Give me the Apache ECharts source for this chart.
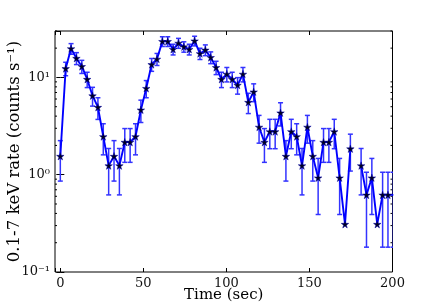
<!DOCTYPE html>
<html>
<head>
<meta charset="utf-8">
<script src="https://cdn.jsdelivr.net/npm/echarts@6/dist/echarts.min.js"></script>
<style>html,body{margin:0;padding:0;background:#fff}#c{width:436px;height:303px}</style>
</head>
<body>
<div id="c"></div>
<script>
// Time bins (sec)
const times = [0, 3.23, 6.47, 9.70, 12.94, 16.17, 19.40, 22.64, 25.87, 29.11,
  32.34, 35.57, 38.81, 42.04, 45.28, 48.51, 51.74, 54.98, 58.21, 61.45,
  64.68, 67.91, 71.15, 74.38, 77.62, 80.85, 84.08, 87.32, 90.55, 93.79,
  97.02, 100.25, 103.49, 106.72, 109.96, 113.19, 116.42, 119.66, 122.89, 126.13,
  129.36, 132.59, 135.83, 139.06, 142.30, 145.53, 148.76, 152.00, 155.23, 158.47,
  161.70, 164.93, 168.17, 171.40, 174.64, 177.87, 181.10, 184.34, 187.57, 190.81,
  194.04, 197.27, 200.51];
// 0.1-7 keV rate (counts/s); null = empty bin
const rates = [1.55, 12.36, 19.78, 15.76, 12.98, 9.58, 6.49, 4.94, 2.47, 1.24,
  1.55, 1.24, 2.16, 2.16, 2.47, 4.64, 7.73, 13.6, 15.45, 23.48,
  23.48, 19.47, 22.56, 20.7, 19.47, 23.79, 17.61, 19.16, 16.07, 12.67,
  9.58, 10.82, 9.58, 8.34, 10.82, 5.56, 7.11, 3.09, 2.16, 2.78,
  2.78, 4.33, 1.55, 2.78, 2.47, 1.24, 3.09, 1.55, 0.93, 2.16,
  2.16, 2.78, 0.93, 0.31, 1.85, null, 1.24, 0.62, 0.93, 0.31,
  0.62, 0.62, 0.62];
// 1-sigma errors (counts/s)
const errors = [0.69, 1.95, 2.47, 2.21, 2.00, 1.72, 1.42, 1.24, 0.87, 0.62,
  0.69, 0.62, 0.82, 0.82, 0.87, 1.20, 1.55, 2.05, 2.18, 2.69,
  2.69, 2.45, 2.64, 2.53, 2.45, 2.71, 2.33, 2.43, 2.23, 1.98,
  1.72, 1.83, 1.72, 1.61, 1.83, 1.31, 1.48, 0.98, 0.82, 0.93,
  0.93, 1.16, 0.69, 0.93, 0.87, 0.62, 0.98, 0.69, 0.54, 0.82,
  0.82, 0.93, 0.54, 0.31, 0.76, null, 0.62, 0.44, 0.54, 0.31,
  0.44, 0.44, 0.44];
const xTicks = [0, 50, 100, 150, 200];
const yTickLabels = {"0.1": "10\u207B\u00B9", "1": "10\u2070", "10": "10\u00B9"};
const yMinorTicks = [0.2, 0.3, 0.4, 0.5, 0.6, 0.7, 0.8, 0.9, 2, 3, 4, 5, 6, 7, 8, 9, 20, 30];

const X_MIN = -3.2, X_MAX = 200, Y_MIN = 0.1, Y_MAX = 30;
const FONT = 'DejaVu Serif';
const BLUE = '#0000ff';
const STAR = 'path://M50,0 L61,35 L98,35 L68,57 L79,91 L50,70 L21,91 L32,57 L2,35 L39,35 Z';

const lineData = times.map((t, i) => [t, rates[i]]);
const errData = [];
times.forEach((t, i) => { if (rates[i] != null) errData.push([t, rates[i], errors[i]]); });

const chart = echarts.init(document.getElementById('c'), null, {renderer: 'canvas'});

const tickLabelStyle = {fontFamily: FONT, fontSize: 13, color: '#111'};

chart.setOption({
  animation: false,
  backgroundColor: '#fff',
  grid: {left: 55, right: 43.5, top: 31, bottom: 31, show: true, borderColor: '#000', borderWidth: 1,
    backgroundColor: 'transparent', containLabel: false, outerBoundsMode: 'none'},
  xAxis: [{
    type: 'value', min: X_MIN, max: X_MAX, position: 'bottom',
    splitLine: {show: false},
    axisLine: {show: false},
    axisTick: {show: true, inside: true, length: 4, lineStyle: {color: '#000'}},
    axisLabel: Object.assign({margin: 5, showMinLabel: true, showMaxLabel: true,
      formatter: v => xTicks.indexOf(Math.round(v * 1000) / 1000) >= 0 ? String(Math.round(v)) : ''}, tickLabelStyle),
    name: 'Time (sec)', nameLocation: 'middle', nameGap: 16, nameMoveOverlap: false,
    nameTextStyle: {fontFamily: FONT, fontSize: 15, color: '#000', verticalAlign: 'top'}
  }, {
    type: 'value', min: X_MIN, max: X_MAX, position: 'top',
    splitLine: {show: false}, axisLine: {show: false},
    axisTick: {show: true, inside: true, length: 4, lineStyle: {color: '#000'}},
    axisLabel: {show: false}
  }],
  yAxis: [{
    type: 'log', logBase: 10, min: Y_MIN, max: Y_MAX, position: 'left',
    splitLine: {show: false}, axisLine: {show: false},
    axisTick: {show: true, inside: true, length: 4, lineStyle: {color: '#000'}},
    axisLabel: Object.assign({margin: 5, showMaxLabel: false,
      formatter: v => yTickLabels[String(Math.round(v * 1000) / 1000)] || ''}, tickLabelStyle),
    name: '0.1-7 keV rate (counts s\u207B\u00B9)', nameLocation: 'middle', nameGap: 32, nameMoveOverlap: false,
    nameTextStyle: {fontFamily: FONT, fontSize: 16.5, color: '#000'}
  }, {
    type: 'log', logBase: 10, min: Y_MIN, max: Y_MAX, position: 'right',
    splitLine: {show: false}, axisLine: {show: false},
    axisTick: {show: true, inside: true, length: 4, lineStyle: {color: '#000'}},
    axisLabel: {show: false}
  }],
  series: [{
    type: 'custom',
    name: 'minorTicks',
    xAxisIndex: 0, yAxisIndex: 0,
    data: yMinorTicks.map(v => [0, v]),
    silent: true,
    clip: false,
    renderItem: function (params, api) {
      const cs = params.coordSys;
      const y = api.coord([0, api.value(1)])[1];
      return {type: 'group', children: [
        {type: 'line', shape: {x1: cs.x, y1: y, x2: cs.x + 2, y2: y}, style: {stroke: '#000', lineWidth: 1}},
        {type: 'line', shape: {x1: cs.x + cs.width - 2, y1: y, x2: cs.x + cs.width, y2: y}, style: {stroke: '#000', lineWidth: 1}}
      ]};
    }
  }, {
    type: 'custom',
    name: 'errors',
    xAxisIndex: 0, yAxisIndex: 0,
    data: errData,
    clip: true,
    silent: true,
    renderItem: function (params, api) {
      const t = api.value(0), v = api.value(1), e = api.value(2);
      const lo = v - e, hi = v + e;
      if (!(lo > 0)) return null;
      const p1 = api.coord([t, lo]);
      const p2 = api.coord([t, hi]);
      const cw = 2.5;
      const st = {stroke: '#3333ff', lineWidth: 1.5};
      return {type: 'group', children: [
        {type: 'line', shape: {x1: p1[0], y1: p1[1], x2: p2[0], y2: p2[1]}, style: st},
        {type: 'line', shape: {x1: p1[0] - cw, y1: p1[1], x2: p1[0] + cw, y2: p1[1]}, style: st},
        {type: 'line', shape: {x1: p2[0] - cw, y1: p2[1], x2: p2[0] + cw, y2: p2[1]}, style: st}
      ]};
    }
  }, {
    type: 'line',
    name: 'rate',
    xAxisIndex: 0, yAxisIndex: 0,
    data: lineData,
    connectNulls: false,
    clip: true,
    symbol: STAR,
    symbolSize: 7.5,
    showSymbol: true,
    showAllSymbol: true,
    lineStyle: {color: BLUE, width: 1.9},
    itemStyle: {color: '#000022', borderColor: '#0000aa', borderWidth: 0.5},
    z: 5
  }]
});
</script>
</body>
</html>
